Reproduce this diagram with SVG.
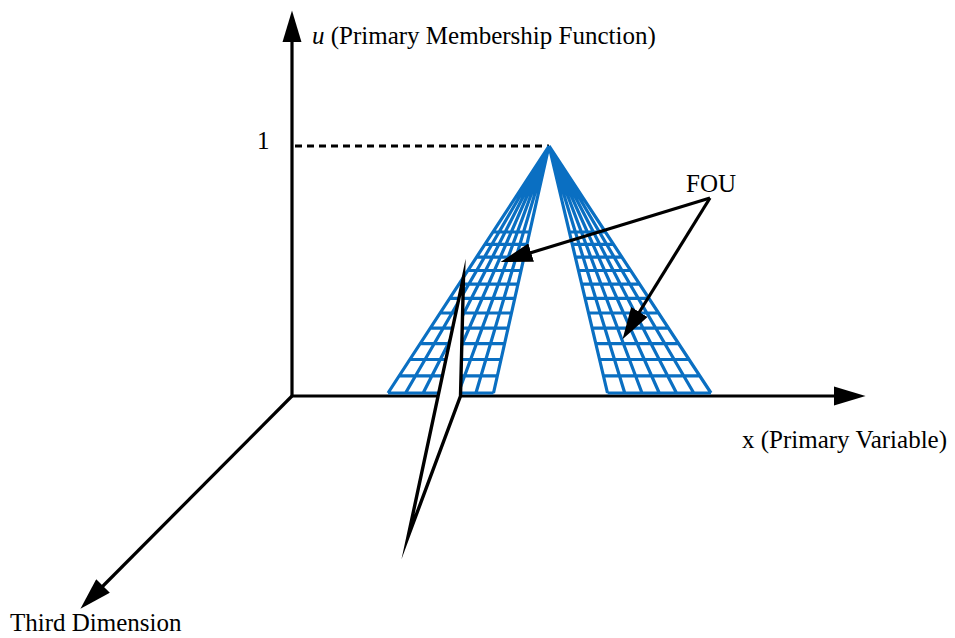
<svg xmlns="http://www.w3.org/2000/svg" width="955" height="638" viewBox="0 0 955 638">
  <style>
    .lbl { font-family: "Liberation Serif", "Times New Roman", serif; font-size: 25px; fill: #000; }
    .ax { fill: none; stroke: #000; stroke-width: 3.2; stroke-linejoin: miter; }
    .grid { fill: none; stroke: #0a6fc2; stroke-width: 3.2; stroke-linecap: butt; stroke-linejoin: miter; }
    .dash { fill: none; stroke: #000; stroke-width: 3; stroke-dasharray: 7 5; }
  </style>
  <defs>
    <marker id="ah" viewBox="0 0 10 6" markerWidth="10" markerHeight="6" refX="2" refY="3" orient="auto-start-reverse" markerUnits="strokeWidth">
      <path d="M0,0 L10,3 L0,6 z" fill="#000"/>
    </marker>
  </defs>
  <rect width="955" height="638" fill="#fff"/>

  <g id="connectors">
    <path id="axes-ux" class="ax" d="M292,36 L292,396 L840,396" marker-start="url(#ah)" marker-end="url(#ah)"/>
    <path id="axis-third" class="ax" d="M292,396 L98.5,590.5" marker-end="url(#ah)"/>
    <line id="dash-one" class="dash" x1="295" y1="146" x2="549" y2="146"/>
  </g>

  <g id="fou-left">
    <path class="grid" d="M549,146 L388,393 M549,146 L405.58,393 M549,146 L423.17,393 M549,146 L440.75,393 M549,146 L458.33,393 M549,146 L475.92,393 M549,146 L493.5,393
      M492.94,232 H529.67 M484.86,244.4 H526.89 M476.52,257.2 H524.01 M467.86,270.5 H521.03 M458.92,284.2 H517.95 M449.66,298.4 H514.76 M440.15,313 H511.48 M430.31,328.1 H508.09 M420.2,343.6 H504.6 M409.83,359.5 H501.03 M399.14,375.9 H497.34 M388,393 H493.5"/>
  </g>
  <g id="fou-right">
    <path class="grid" d="M549,146 L607.5,393 M549,146 L624.75,393 M549,146 L642,393 M549,146 L659.25,393 M549,146 L676.5,393 M549,146 L693.75,393 M549,146 L711,393
      M569.37,232 H605.41 M572.31,244.4 H613.54 M575.34,257.2 H621.93 M578.48,270.5 H630.65 M581.73,284.2 H639.64 M585.09,298.4 H648.95 M588.55,313 H658.53 M592.13,328.1 H668.43 M595.8,343.6 H678.6 M599.57,359.5 H689.03 M603.45,375.9 H699.79 M607.5,393 H711"/>
  </g>

  <g id="fou-arrows">
    <path class="ax" d="M710,198 L525,254.5" marker-end="url(#ah)"/>
    <path class="ax" d="M710,198 L636,317.5" marker-end="url(#ah)"/>
  </g>

  <g id="slice">
    <polygon points="463.5,277 460.5,396 408,537" fill="#fff" stroke="#000" stroke-width="3.4" stroke-linejoin="miter" stroke-miterlimit="20"/>
  </g>

  <g id="label-u"><text class="lbl" x="312" y="44"><tspan font-style="italic">u</tspan> (Primary Membership Function)</text></g>
  <g id="label-one"><text class="lbl" x="257" y="149">1</text></g>
  <g id="label-fou"><text class="lbl" x="686" y="192">FOU</text></g>
  <g id="label-x"><text class="lbl" x="742" y="448">x (Primary Variable)</text></g>
  <g id="label-third"><text class="lbl" x="10" y="631">Third Dimension</text></g>
</svg>
